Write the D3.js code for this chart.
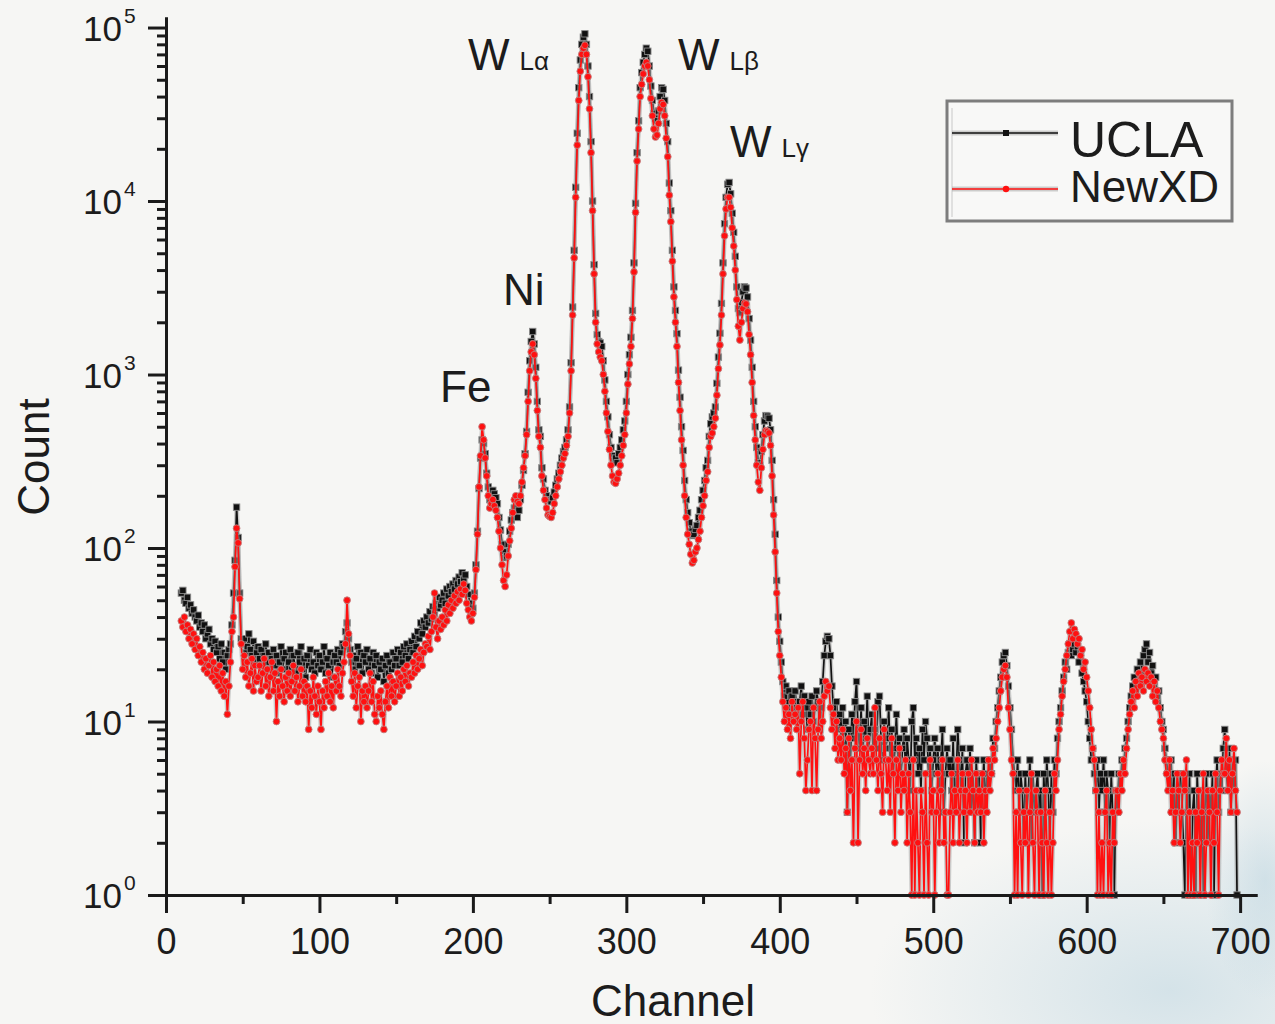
<!DOCTYPE html>
<html>
<head>
<meta charset="utf-8">
<script src="https://cdn.jsdelivr.net/npm/d3@7"></script>
<style>
body{margin:0;background:#f5f5f3;}
svg text{font-family:"Liberation Sans",Arial,sans-serif;fill:#1c1c1c;}
</style>
</head>
<body>
<div id="chart"></div>
<script>
// counts per channel, starting at channel 10
var firstChannel = 10;
var ucla = [
55,57,50,48,52,45,47,42,44,40,
38,41,35,37,33,36,30,32,34,28,
30,26,29,25,27,23,28,22,25,20,
24,26,28,36,55,85,172,115,55,30,
28,30,25,27,32,26,24,29,22,25,
27,23,26,21,24,28,22,25,20,23,
26,21,24,19,22,27,20,23,25,18,
22,26,20,24,21,19,25,22,27,20,
23,18,24,21,26,20,22,19,25,21,
24,20,22,27,19,23,21,25,18,22,
24,22,26,21,25,28,27,33,37,30,
26,22,24,20,23,27,21,25,19,24,
22,26,20,23,19,25,21,24,18,22,
20,23,17,21,24,19,22,20,25,21,
23,26,21,25,22,27,24,28,23,26,
29,25,31,27,33,30,37,32,38,35,
40,37,43,39,46,42,48,45,52,47,
50,55,48,58,53,60,56,62,58,65,
62,68,64,72,66,70,60,54,48,42,
45,55,80,125,220,330,420,400,350,270,
225,190,200,215,205,195,180,150,127,105,
95,88,90,105,125,145,160,170,160,150,
165,190,230,280,350,470,790,1200,1550,1770,
1500,1100,700,480,440,290,250,215,200,190,
188,185,195,210,230,250,270,300,330,360,
380,420,480,650,1170,2450,5200,12000,24600,45000,
65000,80000,88000,92000,80000,60000,40000,22000,10000,4300,
2250,1700,1550,1520,1450,1200,930,700,570,450,
380,340,320,330,310,350,380,420,480,540,
700,1000,1300,1640,2340,4400,9700,19000,29000,45000,
55000,63000,70000,76000,73000,60000,46000,38000,32000,30000,
29000,33000,40000,45000,44000,38000,28000,22000,12700,8800,
5200,3200,2340,1720,1060,740,500,365,245,190,
160,140,125,118,120,128,135,150,165,190,
215,245,290,320,440,520,570,600,650,890,
1260,1730,2570,4400,7400,10500,12500,12800,11000,8500,
6600,4800,3200,2400,2270,2600,3000,3200,3150,2800,
2100,1580,1100,700,500,380,310,300,360,450,
540,580,575,560,480,320,190,120,65,40,
29,22,17,14,16,12,15,11,14,13,
15,12,10,13,16,11,14,12,9,13,
11,14,10,12,15,13,9,12,17,24,
29,31,30,24,16,12,10,13,9,11,
8,12,7,10,3,9,6,11,8,13,
17,9,7,12,6,10,8,14,7,9,
11,6,9,7,13,14,8,6,10,7,
8,12,6,9,5,7,11,6,8,5,
7,9,5,8,6,4,10,12,6,8,
5,7,4,9,6,10,8,5,7,4,
6,8,5,7,4,6,9,3,5,7,
5,6,4,8,3,5,9,6,4,7,
2,5,6,4,7,3,5,2,6,4,
5,2,4,6,3,5,4,6,5,8,
7,10,12,15,18,22,24,25,21,16,
12,9,6,5,4,6,3,5,4,2,
5,3,4,6,2,5,3,4,5,3,
4,1,5,3,6,4,2,5,3,6,
5,8,10,12,15,18,22,20,25,28,
24,26,28,25,27,22,25,19,17,15,
13,10,8,6,7,5,4,6,3,5,
4,6,3,5,4,2,5,3,1,4,
3,5,4,6,5,7,8,10,12,14,
16,18,15,20,17,22,19,24,26,28,
22,25,19,21,17,18,14,15,12,10,
9,7,6,5,4,6,3,5,2,4,
3,5,4,2,1,4,3,5,1,3,
4,1,5,3,2,4,1,3,5,2,
4,3,5,1,4,6,3,5,4,7,
9,5,4,7,3,6,4,6,1
];
var newxd = [
38,35,40,33,36,30,34,28,32,26,
30,24,27,22,25,20,23,19,21,24,
18,22,17,20,16,21,15,19,14,17,
11,16,22,33,40,78,130,107,51,28,
20,24,18,22,16,19,23,15,21,17,
18,21,15,19,23,16,20,14,18,22,
15,19,10,17,14,20,16,13,18,15,
19,14,17,21,15,18,13,16,20,14,
17,13,16,9,15,12,18,14,11,16,
13,9,15,12,17,14,19,13,16,12,
18,15,20,16,14,19,22,28,50,32,
24,17,14,19,12,16,18,10,15,13,
16,12,15,19,13,17,11,10,14,12,
15,11,9,13,16,12,18,14,17,13,
16,19,14,18,15,20,17,21,16,19,
18,22,19,24,20,23,26,21,25,28,
27,31,26,33,40,55,35,30,38,34,
40,36,44,38,47,42,50,45,53,48,
56,50,58,54,62,57,48,44,40,38,
42,52,75,120,225,340,500,420,330,260,
200,170,180,190,175,165,150,125,100,80,
65,60,70,90,110,130,160,190,200,185,
180,200,240,290,340,450,700,1050,1350,1500,
1300,950,620,440,380,260,215,190,170,155,
152,150,160,180,200,225,250,275,300,330,
350,390,440,600,1050,2200,4700,10500,21000,38000,
56000,70000,76000,79000,70000,52000,34000,19000,8800,3800,
2000,1500,1350,1260,1200,1000,800,600,470,370,
300,260,240,236,250,270,300,340,390,450,
600,880,1150,1450,2100,3900,8600,17000,26000,40000,
47000,54000,60000,63000,60000,50000,39000,31000,26000,23400,
24000,28000,34000,37000,36000,31000,23000,18000,10800,7600,
4500,2800,2000,1450,900,620,420,300,200,150,
120,105,92,82,85,95,100,112,125,150,
175,200,245,275,380,440,460,500,560,760,
1080,1480,2200,3800,6300,9000,10500,10500,9200,7000,
5500,4000,2700,1900,1580,2000,2400,2580,2550,2300,
1700,1300,900,580,420,300,240,215,290,370,
450,475,470,460,390,260,155,95,55,33,
24,18,13,10,12,9,11,8,13,10,
11,9,12,5,10,13,8,4,6,9,
10,4,12,8,4,9,13,8,10,14,
17,15,16,12,9,11,7,10,6,8,
6,9,5,7,3,8,4,6,2,7,
10,2,6,9,5,7,4,8,6,5,
7,5,12,6,4,8,5,3,9,6,
4,6,3,8,5,2,6,4,7,3,
5,4,6,2,5,3,1,6,1,4,
2,1,4,3,1,5,2,1,6,3,
4,1,3,5,2,4,6,2,3,1,
1,3,5,2,4,3,6,2,4,5,
3,4,2,5,3,6,4,2,5,3,
4,3,5,2,4,3,6,4,5,7,
6,8,10,12,15,18,20,21,18,12,
9,6,5,1,3,1,4,2,1,3,
2,4,1,3,5,2,1,4,3,1,
3,2,1,4,2,1,3,1,2,5,
4,6,9,11,14,17,20,24,28,33,
37,30,34,32,28,30,24,26,20,22,
18,15,12,9,7,6,4,1,3,1,
2,1,3,4,1,2,1,3,2,4,
4,3,5,4,6,5,7,9,11,13,
15,12,17,14,19,16,18,15,20,17,
19,16,18,14,17,13,15,12,10,9,
8,6,5,4,6,3,4,2,3,5,
4,2,3,5,4,6,1,3,1,2,
1,3,2,4,1,3,5,1,2,4,
3,1,4,2,5,3,1,4,6,5,
5,8,4,6,3,5,7,4,3
];
var xTicks = [0,100,200,300,400,500,600,700];
var xMinor = [50,150,250,350,450,550,650];
var yExponents = [0,1,2,3,4,5];
var seriesNames = ["UCLA","NewXD"];
// label anchors in data units (channel, count)
var peaks = [
	{main:"W",sub:"L\u03b1",ch:196.8,v:56900},
	{main:"W",sub:"L\u03b2",ch:333.7,v:56900},
	{main:"W",sub:"L\u03b3",ch:367.6,v:17900},
	{main:"Fe",sub:"",ch:178.6,v:695},
	{main:"Ni",sub:"",ch:219.6,v:2520}
];

var W = 1275, H = 1024;
var svg = d3.select("#chart").append("svg").attr("width",W).attr("height",H);

// paper background with a faint blue stain bottom right
var defs = svg.append("defs");
var rg = defs.append("radialGradient").attr("id","stain");
rg.append("stop").attr("offset","0%").attr("stop-color","#b9d3df").attr("stop-opacity",.55);
rg.append("stop").attr("offset","100%").attr("stop-color","#b9d3df").attr("stop-opacity",0);
svg.append("rect").attr("width",W).attr("height",H).attr("fill","#f6f6f4");
svg.append("ellipse").attr("cx",1170).attr("cy",990).attr("rx",300).attr("ry",170).attr("fill","url(#stain)");
svg.append("ellipse").attr("cx",1265).attr("cy",880).attr("rx",60).attr("ry",120).attr("fill","url(#stain)");

var x = d3.scaleLinear().domain([0,711]).range([166,1257]);
var y = d3.scaleLog().domain([1,115000]).range([895,17]);

function toPoints(arr){
	return arr.map(function(v,i){ return {ch:firstChannel+i, v:v}; });
}

var line = d3.line().x(function(d){return x(d.ch);}).y(function(d){return y(d.v);});

function drawSeries(arr,color,shape){
	var pts = toPoints(arr);
	var g = svg.append("g");
	g.append("path").attr("d",line(pts)).attr("fill","none").attr("stroke","#a8a8a8").attr("stroke-opacity",.55).attr("stroke-width",4.5).attr("stroke-linejoin","round");
	g.append("path").attr("d",line(pts)).attr("fill","none").attr("stroke",color).attr("stroke-width",1.7).attr("stroke-linejoin","round");
	if(shape=="square"){
		g.selectAll("rect").data(pts).enter().append("rect")
			.attr("x",function(d){return x(d.ch)-3.2;}).attr("y",function(d){return y(d.v)-3.2;})
			.attr("width",6.4).attr("height",6.4).attr("fill",color).attr("stroke","#8a8a8a").attr("stroke-width",.9);
	}else{
		g.selectAll("circle").data(pts).enter().append("circle")
			.attr("cx",function(d){return x(d.ch);}).attr("cy",function(d){return y(d.v);})
			.attr("r",3.4).attr("fill",color).attr("stroke","#c08080").attr("stroke-width",.9);
	}
}
drawSeries(ucla,"#111","square");
drawSeries(newxd,"#ff1010","circle");

// axes
var gx = svg.append("g").attr("transform","translate(0,895)")
	.call(d3.axisBottom(x).tickValues(xTicks).tickSize(18).tickSizeOuter(0).tickPadding(15).tickFormat(d3.format("d")));
var gxm = svg.append("g").attr("transform","translate(0,895)")
	.call(d3.axisBottom(x).tickValues(xMinor).tickSize(9).tickSizeOuter(0).tickFormat(""));
var yMinor = [];
yExponents.forEach(function(k){
	if(k<5) for(var m=2;m<10;m++) yMinor.push(m*Math.pow(10,k));
});
var gy = svg.append("g").attr("transform","translate(166,0)")
	.call(d3.axisLeft(y).tickValues(yExponents.map(function(k){return Math.pow(10,k);})).tickSize(18).tickSizeOuter(0).tickFormat(""));
var gym = svg.append("g").attr("transform","translate(166,0)")
	.call(d3.axisLeft(y).tickValues(yMinor).tickSize(9).tickSizeOuter(0).tickFormat(""));

[gx,gxm,gy,gym].forEach(function(g){
	g.select(".domain").attr("stroke","#1a1a1a").attr("stroke-width",3);
	g.selectAll(".tick line").attr("stroke","#1a1a1a").attr("stroke-width",3);
});
gx.selectAll(".tick text").attr("font-size",36).attr("fill","#1c1c1c").attr("font-family","Liberation Sans, Arial, sans-serif");

yExponents.forEach(function(k){
	var ty = y(Math.pow(10,k));
	svg.append("text").attr("x",122).attr("y",ty+13).attr("text-anchor","end").attr("font-size",35).text("10");
	svg.append("text").attr("x",124).attr("y",ty-5).attr("font-size",21).text(k);
});

// axis titles
svg.append("text").attr("x",673).attr("y",1016).attr("text-anchor","middle").attr("font-size",44).text("Channel");
svg.append("text").attr("transform","translate(49,457) rotate(-90)").attr("text-anchor","middle").attr("font-size",44).text("Count");

// peak labels
peaks.forEach(function(p){
	var t = svg.append("text").attr("x",x(p.ch)).attr("y",y(p.v)).attr("font-size",44).text(p.main);
	if(p.sub) t.append("tspan").attr("dx",10).attr("font-size",26).text(p.sub);
});

// legend
var lg = svg.append("g");
lg.append("rect").attr("x",947).attr("y",101).attr("width",285).attr("height",120).attr("fill","#f8f8f7").attr("stroke","#7d7d7d").attr("stroke-width",3);
lg.append("line").attr("x1",952).attr("x2",952).attr("y1",108).attr("y2",217).attr("stroke","#c8c8c8").attr("stroke-width",1);
var legendY = [133,189];
var legendColor = ["#111","#ff1010"];
seriesNames.forEach(function(name,i){
	var ly = legendY[i];
	lg.append("line").attr("x1",952).attr("x2",1058).attr("y1",ly).attr("y2",ly).attr("stroke","#a8a8a8").attr("stroke-opacity",.55).attr("stroke-width",5);
	lg.append("line").attr("x1",952).attr("x2",1058).attr("y1",ly).attr("y2",ly).attr("stroke",legendColor[i]).attr("stroke-width",1.6);
	if(i==0){
		lg.append("rect").attr("x",1003).attr("y",ly-3).attr("width",6).attr("height",6).attr("fill",legendColor[i]);
	}else{
		lg.append("circle").attr("cx",1006).attr("cy",ly).attr("r",3.2).attr("fill",legendColor[i]);
	}
	lg.append("text").attr("x",1070).attr("y",i==0?157:202).attr("font-size",i==0?50:44).text(name);
});
</script>
</body>
</html>
